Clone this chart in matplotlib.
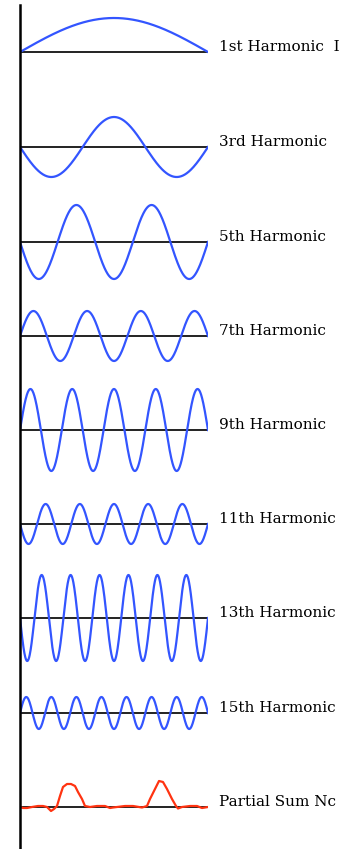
import numpy as np
import matplotlib
matplotlib.use("Agg")
import matplotlib.pyplot as plt

# harmonic number, signed amplitude (px)
harmonics = [1, 3, 5, 7, 9, 11, 13, 15]
amplitudes = [34, -30, -37, 25, 41, -20, -43, 16]
labels = ["1st Harmonic  I", "3rd Harmonic", "5th Harmonic", "7th Harmonic",
          "9th Harmonic", "11th Harmonic", "13th Harmonic", "15th Harmonic",
          "Partial Sum Nc"]

# partial sum: position along string (px), height (px)
partial_pos = [0, 3, 7, 12, 18, 23, 27, 31, 34, 37, 40, 43, 47, 51, 55, 58,
               62, 65, 70, 77, 85, 90, 93, 105, 113, 122, 127, 130, 135, 139,
               143, 147, 152, 156, 158, 162, 170, 177, 182, 188]
partial_val = [0, -1, -1, 0, 1, 1, 0, -4, -2, 1, 11, 20, 23, 23, 21, 15,
               8, 1, 0, 1, 1, -1, -0.5, 1, 1, -0.5, 1, 8, 18, 26,
               25, 18, 8, 1, -1.5, 0, 1, 1, -1, 0]

W, H = 348, 849
x0, x1 = 20, 208
rows = [52, 147, 242, 336, 430, 524, 618, 713, 807]

fig = plt.figure(figsize=(W / 100, H / 100), dpi=100)
ax = fig.add_axes([x0 / W, 0, (x1 - x0) / W, 1])
ax.set_xlim(0, x1 - x0)
ax.set_ylim(H, 0)
ax.axis("off")

u = np.linspace(0, 1, 600)
for i, (n, a) in enumerate(zip(harmonics, amplitudes)):
    y = a * np.sin(n * np.pi * u)
    ax.plot([0, x1 - x0], [rows[i], rows[i]], color="#222222", lw=1.4, zorder=1)
    ax.plot(u * (x1 - x0), rows[i] - y, color="#3355ff", lw=1.6, zorder=2)

ax.plot([0, x1 - x0], [rows[-1], rows[-1]], color="#222222", lw=1.4, zorder=1)
ax.plot(partial_pos, rows[-1] - np.array(partial_val), color="#ff3311",
        lw=1.6, zorder=2)

# vertical axis
ax.plot([0, 0], [5, H], color="black", lw=1.8, clip_on=False, zorder=3)

for i, lab in enumerate(labels):
    ax.text(219 - x0, rows[i] - 1, lab, family="DejaVu Serif", fontsize=11,
            va="baseline", ha="left", color="black")

fig.savefig("out.png", dpi=100)
